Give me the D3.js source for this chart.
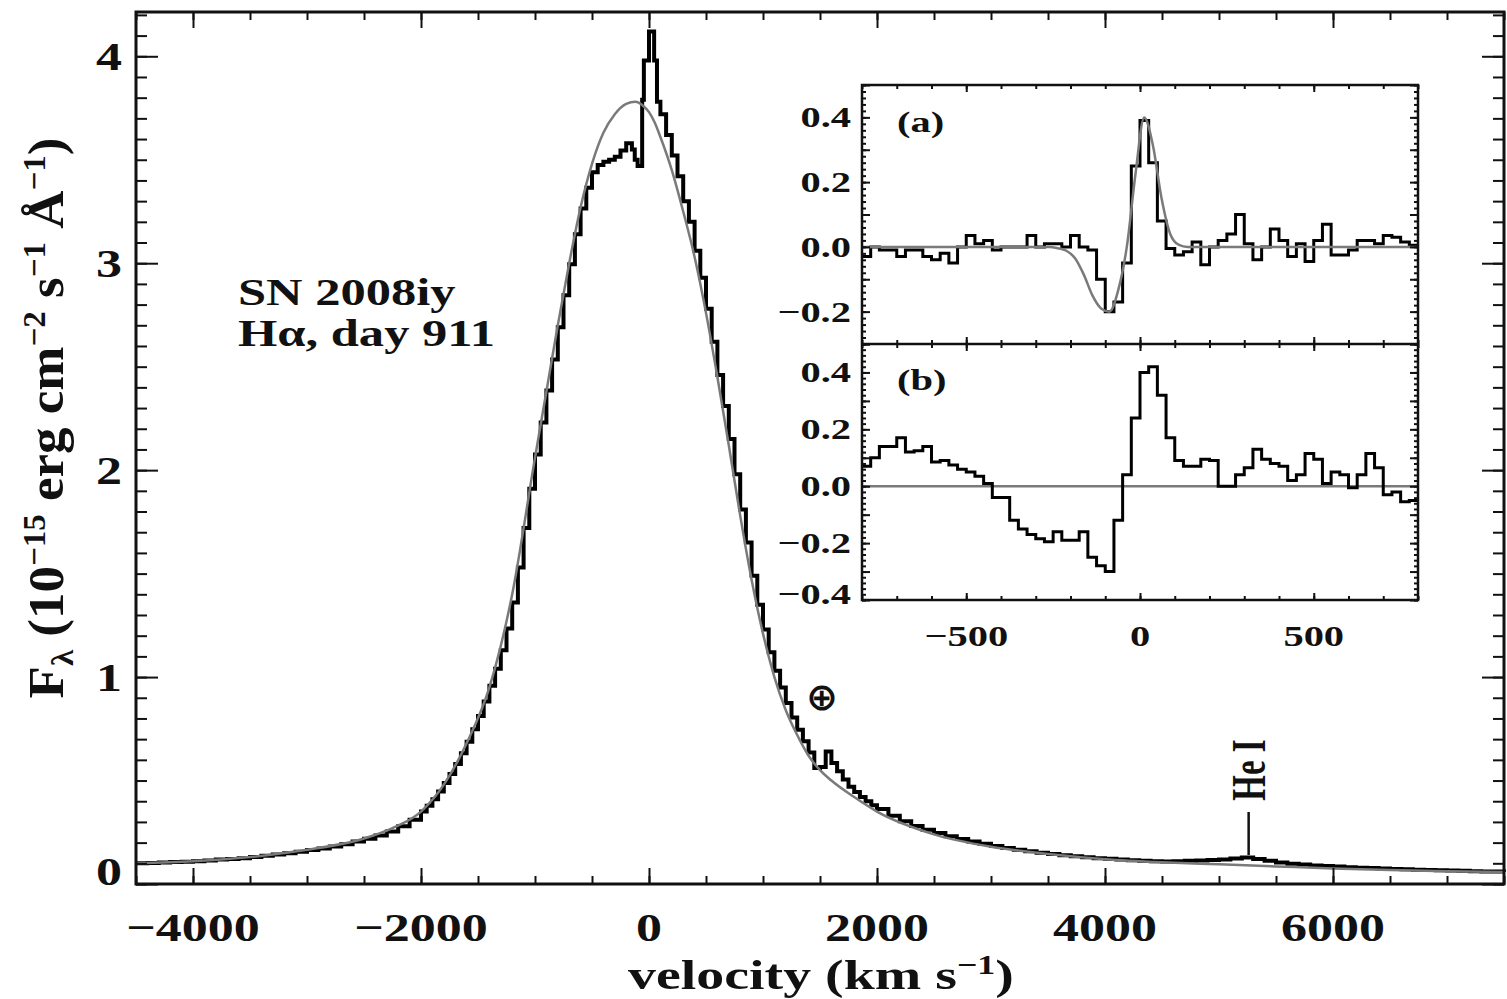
<!DOCTYPE html>
<html>
<head>
<meta charset="utf-8">
<title>SN 2008iy H-alpha day 911</title>
<script src="https://d3js.org/d3.v7.min.js"></script>
<style>
  body { margin: 0; background: #ffffff; }
  text { font-family: 'Liberation Serif', 'Times New Roman', serif; font-weight: bold; fill: #111; }
</style>
</head>
<body>
<svg id="chart" width="1507" height="999"></svg>
<script>

// ---- main panel: observed H-alpha profile (step) ----
var specVel = [-4500,-4400,-4300,-4200,-4100,-4000,-3900,-3800,-3700,-3600,-3500,-3400,-3300,-3200,-3100,-3000,
  -2900,-2800,-2700,-2600,-2500,-2400,-2300,-2200,-2100,-2000,
  -1950,-1900,-1850,-1800,-1750,-1700,-1650,-1600,-1550,-1500,-1450,-1400,-1350,-1300,-1250,-1200,
  -1150,-1100,-1050,-1000,-950,-900,-850,-800,-750,-700,-650,-600,-550,-500,-450,-400,-350,-300,-250,-200,
  -150,-125,-100,-60,-45,0,45,70,100,150,200,250,300,350,400,450,500,550,600,650,700,750,800,850,900,950,
  1000,1050,1100,1150,1200,1250,1300,1350,1400,1450,1500,1550,1600,1650,1700,1750,1800,1850,1900,1950,2000,
  2100,2200,2300,2400,2500,2600,2700,2800,2900,3000,3100,3200,3300,3400,3500,3600,3700,3800,3900,4000,
  4100,4200,4300,4400,4500,4600,4700,4800,4900,5000,5100,5200,5300,5400,5500,5600,5700,5800,5900,6000,
  6100,6200,6300,6400,6500,6600,6700,6800,6900,7000,7100,7200,7300,7400,7500];
var specFlux = [0.100,0.102,0.104,0.106,0.108,0.110,0.113,0.118,0.121,0.125,0.130,0.136,0.142,0.149,0.156,0.164,
  0.172,0.181,0.192,0.205,0.219,0.234,0.254,0.279,0.310,0.350,
  0.378,0.410,0.447,0.488,0.532,0.580,0.632,0.688,0.748,0.812,0.882,0.958,1.040,1.130,1.235,1.360,
  1.530,1.720,1.910,2.075,2.230,2.385,2.535,2.690,2.845,2.995,3.140,3.265,3.365,3.440,3.475,3.490,3.500,3.515,3.545,3.580,
  3.550,3.500,3.470,3.790,3.980,4.120,3.980,3.780,3.720,3.620,3.520,3.420,3.300,3.200,3.060,2.930,2.780,2.620,2.460,2.310,2.150,1.980,1.810,1.650,1.490,1.350,
  1.230,1.120,1.030,0.950,0.875,0.805,0.745,0.690,0.635,0.560,0.565,0.640,0.585,0.545,0.505,0.470,0.445,0.420,0.400,0.380,0.362,
  0.330,0.303,0.280,0.262,0.246,0.231,0.218,0.205,0.194,0.184,0.174,0.166,0.158,0.151,0.145,0.139,0.134,0.129,0.125,0.122,
  0.118,0.115,0.112,0.110,0.109,0.110,0.112,0.114,0.116,0.119,0.123,0.128,0.121,0.112,0.104,0.098,0.094,0.090,0.087,0.084,
  0.081,0.079,0.077,0.075,0.073,0.071,0.069,0.068,0.066,0.065,0.064,0.062,0.061,0.060,0.059];

// ---- main panel: smooth model (grey) ----
var modelVel = [-4500,-4000,-3500,-3000,-2500,-2250,-2000,-1800,-1600,-1400,-1200,-1000,-900,-800,-700,-600,-500,
  -400,-300,-200,-120,-50,0,50,100,200,300,400,500,600,700,800,900,1000,1100,1200,1300,1400,1500,1600,1800,
  2000,2500,3000,3500,4000,4500,5000,5500,6000,6500,7000,7500];
var modelFlux = [0.100,0.110,0.130,0.165,0.220,0.270,0.350,0.480,0.680,0.950,1.400,2.060,2.380,2.700,3.000,3.270,3.480,
  3.630,3.720,3.770,3.780,3.760,3.730,3.680,3.610,3.450,3.250,3.030,2.760,2.450,2.120,1.780,1.470,1.210,1.000,0.840,0.720,0.620,0.550,0.500,0.420,
  0.350,0.240,0.180,0.145,0.120,0.105,0.095,0.085,0.075,0.068,0.062,0.058];

// ---- inset: 25 km/s bins from -800 to +800 ----
var insetVel = d3.range(-800, 800, 25);
var insetA = [-0.030,0.000,-0.010,-0.010,-0.030,-0.010,-0.010,-0.030,-0.040,-0.020,-0.050,0.000,0.035,0.010,0.020,-0.010,
  0.000,0.000,0.000,0.035,0.000,0.010,0.010,0.000,0.035,0.000,-0.010,-0.100,-0.200,-0.170,-0.050,0.250,
  0.390,0.260,0.080,-0.005,-0.025,-0.015,0.015,-0.055,0.000,0.020,0.040,0.100,0.010,-0.040,0.000,0.055,
  0.020,-0.030,0.010,-0.045,0.020,0.070,-0.025,-0.025,-0.010,0.020,0.020,0.010,0.035,0.030,0.015,0.005];
var insetAModelVel = [-800,-260,-237,-212,-187,-162,-137,-112,-88,-63,-38,-13,12,37,62,87,112,137,800];
var insetAModel = [0.000,0.000,-0.004,-0.012,-0.035,-0.085,-0.150,-0.190,-0.200,-0.135,0.000,0.225,0.400,0.315,0.150,0.040,0.006,0.000,0.000];
var insetB = [0.070,0.100,0.140,0.140,0.170,0.120,0.125,0.140,0.085,0.090,0.075,0.060,0.050,0.035,0.010,-0.040,
  -0.040,-0.120,-0.150,-0.170,-0.185,-0.195,-0.160,-0.190,-0.190,-0.160,-0.250,-0.280,-0.300,-0.120,0.040,0.240,
  0.400,0.420,0.320,0.170,0.090,0.070,0.070,0.095,0.090,0.000,0.000,0.040,0.065,0.130,0.095,0.080,
  0.070,0.020,0.040,0.115,0.095,0.010,0.050,0.040,-0.005,0.040,0.115,0.065,-0.030,-0.020,-0.055,-0.050];

var mainXTicks = [-4000, -2000, 0, 2000, 4000, 6000];
var mainYTicks = [0, 1, 2, 3, 4];
var insetXTicks = [-500, 0, 500];
var insetATicks = [-0.2, 0.0, 0.2, 0.4];
var insetBTicks = [-0.4, -0.2, 0.0, 0.2, 0.4];
var heLineVel = 5260;
var telluricVel = 1500;

var SX = 1.3;   // the figure's lettering is wide
var svg = d3.select("#chart");
svg.append("rect").attr("width", 1507).attr("height", 999).attr("fill", "#fff");

var box = {left: 136, right: 1504, top: 12, bottom: 884};
var x = d3.scaleLinear().domain([-4500, 7500]).range([box.left, box.right]);
var y = d3.scaleLinear().domain([0, 4.214]).range([box.bottom, box.top]);

function minus(s) { return String(s).replace("-", "\u2212"); }

function stretchedText(parent, px, py, anchor, fs, sx) {
  return parent.append("text")
    .attr("transform", "translate(" + px + "," + py + ") scale(" + sx + ",1)")
    .attr("text-anchor", anchor)
    .style("font-size", fs + "px");
}

function ticks(g, scale, vals, orient, pos, len) {
  var ax = orient == "bottom" ? d3.axisBottom(scale) : orient == "top" ? d3.axisTop(scale)
         : orient == "left" ? d3.axisLeft(scale) : d3.axisRight(scale);
  ax.tickValues(vals).tickSize(-len).tickFormat("");
  var t = (orient == "bottom" || orient == "top") ? "translate(0," + pos + ")" : "translate(" + pos + ",0)";
  var a = g.append("g").attr("transform", t).call(ax);
  a.select(".domain").remove();
  a.selectAll("line").attr("stroke", "#111").attr("stroke-width", 2);
}

// ---- main curves ----
var stepLine = d3.line().curve(d3.curveStepAfter)
  .x(function(d) { return x(d[0]); }).y(function(d) { return y(d[1]); });
var smoothLine = d3.line().curve(d3.curveMonotoneX)
  .x(function(d) { return x(d[0]); }).y(function(d) { return y(d[1]); });

var specData = specVel.map(function(v, i) { return [v, specFlux[i]]; });
var modelData = modelVel.map(function(v, i) { return [v, modelFlux[i]]; });

svg.append("path").datum(specData).attr("d", stepLine)
  .attr("fill", "none").attr("stroke", "#000").attr("stroke-width", 4);
svg.append("path").datum(modelData).attr("d", smoothLine)
  .attr("fill", "none").attr("stroke", "#7a7a7a").attr("stroke-width", 2.5);

// ---- main axes ----
var minorX = d3.range(-4500, 7501, 500);
var minorY = d3.range(0, 4.21, 0.1);
ticks(svg, x, minorX, "bottom", box.bottom, 8);
ticks(svg, x, mainXTicks, "bottom", box.bottom, 16);
ticks(svg, x, minorX, "top", box.top, 8);
ticks(svg, x, mainXTicks, "top", box.top, 16);
ticks(svg, y, minorY, "left", box.left, 11);
ticks(svg, y, mainYTicks, "left", box.left, 22);
ticks(svg, y, minorY, "right", box.right, 11);
ticks(svg, y, mainYTicks, "right", box.right, 22);

svg.append("rect")
  .attr("x", box.left).attr("y", box.top)
  .attr("width", box.right - box.left).attr("height", box.bottom - box.top)
  .attr("fill", "none").attr("stroke", "#111").attr("stroke-width", 3);

mainXTicks.forEach(function(t) {
  stretchedText(svg, x(t), 941, "middle", 40, SX).text(minus(t));
});
mainYTicks.forEach(function(t) {
  var off = t === 0 ? -13 : 0;
  stretchedText(svg, 122, y(t) + 14 + off, "end", 40, SX).text(t);
});

var xt = stretchedText(svg, 821, 989, "middle", 42, 1.33);
xt.append("tspan").text("velocity (km s");
xt.append("tspan").attr("dy", -15).style("font-size", "27px").text("\u22121");
xt.append("tspan").attr("dy", 15).text(")");

var yt = svg.append("text")
  .attr("transform", "translate(63,418) scale(0.97,1) rotate(-90)")
  .attr("text-anchor", "middle").style("font-size", "53px");
yt.append("tspan").text("F");
yt.append("tspan").attr("dy", 10).style("font-size", "33px").text("\u03bb");
yt.append("tspan").attr("dy", -10).text(" (10");
yt.append("tspan").attr("dy", -19).style("font-size", "33px").text("\u221215");
yt.append("tspan").attr("dy", 19).text(" erg cm");
yt.append("tspan").attr("dy", -19).style("font-size", "33px").text("\u22122");
yt.append("tspan").attr("dy", 19).text(" s");
yt.append("tspan").attr("dy", -19).style("font-size", "33px").text("\u22121");
yt.append("tspan").attr("dy", 19).text(" \u00c5");
yt.append("tspan").attr("dy", -19).style("font-size", "33px").text("\u22121");
yt.append("tspan").attr("dy", 19).text(")");

stretchedText(svg, 238, 305, "start", 38, 1.33).text("SN 2008iy");
stretchedText(svg, 238, 346, "start", 38, 1.33).text("H\u03b1, day 911");

// annotations
svg.append("text").attr("x", x(telluricVel) + 2).attr("y", 710).attr("text-anchor", "middle")
  .style("font-family", "'DejaVu Sans', sans-serif").style("font-weight", "bold")
  .style("font-size", "38px").text("\u2295");
svg.append("line").attr("x1", x(heLineVel)).attr("x2", x(heLineVel))
  .attr("y1", 812).attr("y2", 855).attr("stroke", "#111").attr("stroke-width", 2.5);
svg.append("text")
  .attr("transform", "translate(" + (x(heLineVel) + 16) + ",770) scale(1.45,1) rotate(-90)")
  .attr("text-anchor", "middle").style("font-size", "33px").text("He I");

// ---- inset ----
var ib = {left: 862, right: 1418, top: 85, mid: 344, bottom: 600};
var ix = d3.scaleLinear().domain([-800, 800]).range([ib.left, ib.right]);
var ya = d3.scaleLinear().domain([-0.3, 0.5]).range([ib.mid, ib.top]);
var yb = d3.scaleLinear().domain([-0.4, 0.5]).range([ib.bottom, ib.mid]);

svg.append("rect").attr("x", ib.left).attr("y", ib.top)
  .attr("width", ib.right - ib.left).attr("height", ib.bottom - ib.top).attr("fill", "#fff");

function insetSteps(vals) {
  var pts = insetVel.map(function(v, i) { return [v, vals[i]]; });
  pts.push([800, vals[vals.length - 1]]);
  return pts;
}

svg.append("clipPath").attr("id", "clipA").append("rect")
  .attr("x", ib.left).attr("y", ib.top).attr("width", ib.right - ib.left).attr("height", ib.mid - ib.top);

var gA = svg.append("g").attr("clip-path", "url(#clipA)");
gA.append("path").datum(insetSteps(insetA))
  .attr("d", d3.line().curve(d3.curveStepAfter).x(function(d) { return ix(d[0]); }).y(function(d) { return ya(d[1]); }))
  .attr("fill", "none").attr("stroke", "#000").attr("stroke-width", 3);
gA.append("path").datum(insetAModelVel.map(function(v, i) { return [v, insetAModel[i]]; }))
  .attr("d", d3.line().curve(d3.curveMonotoneX).x(function(d) { return ix(d[0]); }).y(function(d) { return ya(d[1]); }))
  .attr("fill", "none").attr("stroke", "#7a7a7a").attr("stroke-width", 2.5);

svg.append("line").attr("x1", ib.left).attr("x2", ib.right).attr("y1", yb(0)).attr("y2", yb(0))
  .attr("stroke", "#7a7a7a").attr("stroke-width", 2.5);
svg.append("path").datum(insetSteps(insetB))
  .attr("d", d3.line().curve(d3.curveStepAfter).x(function(d) { return ix(d[0]); }).y(function(d) { return yb(d[1]); }))
  .attr("fill", "none").attr("stroke", "#000").attr("stroke-width", 3);

var insetMinorX = d3.range(-800, 801, 100);
[ib.top, ib.mid].forEach(function(p) {
  ticks(svg, ix, insetMinorX, "top", p, 4);
  ticks(svg, ix, insetXTicks, "top", p, 7);
});
[ib.mid, ib.bottom].forEach(function(p) {
  ticks(svg, ix, insetMinorX, "bottom", p, 4);
  ticks(svg, ix, insetXTicks, "bottom", p, 7);
});
ticks(svg, ya, d3.range(-0.3, 0.501, 0.02), "left", ib.left, 4);
ticks(svg, ya, d3.range(-0.3, 0.501, 0.1), "left", ib.left, 8);
ticks(svg, ya, d3.range(-0.3, 0.501, 0.02), "right", ib.right, 4);
ticks(svg, ya, d3.range(-0.3, 0.501, 0.1), "right", ib.right, 8);
ticks(svg, yb, d3.range(-0.4, 0.501, 0.02), "left", ib.left, 4);
ticks(svg, yb, d3.range(-0.4, 0.501, 0.1), "left", ib.left, 8);
ticks(svg, yb, d3.range(-0.4, 0.501, 0.02), "right", ib.right, 4);
ticks(svg, yb, d3.range(-0.4, 0.501, 0.1), "right", ib.right, 8);

svg.append("rect").attr("x", ib.left).attr("y", ib.top)
  .attr("width", ib.right - ib.left).attr("height", ib.bottom - ib.top)
  .attr("fill", "none").attr("stroke", "#111").attr("stroke-width", 2.5);
svg.append("line").attr("x1", ib.left).attr("x2", ib.right).attr("y1", ib.mid).attr("y2", ib.mid)
  .attr("stroke", "#111").attr("stroke-width", 2.5);

var fmt = d3.format(".1f");
insetATicks.forEach(function(t) {
  stretchedText(svg, 851, ya(t) + 10, "end", 30, 1.35).text(minus(fmt(t)));
});
insetBTicks.forEach(function(t) {
  var off = t === -0.4 ? -6 : 0;
  stretchedText(svg, 851, yb(t) + 10 + off, "end", 30, 1.35).text(minus(fmt(t)));
});
insetXTicks.forEach(function(t) {
  stretchedText(svg, ix(t), 646, "middle", 30, 1.35).text(minus(t));
});
stretchedText(svg, 897, 132, "start", 30, 1.35).text("(a)");
stretchedText(svg, 897, 390, "start", 30, 1.35).text("(b)");

</script>
</body>
</html>
